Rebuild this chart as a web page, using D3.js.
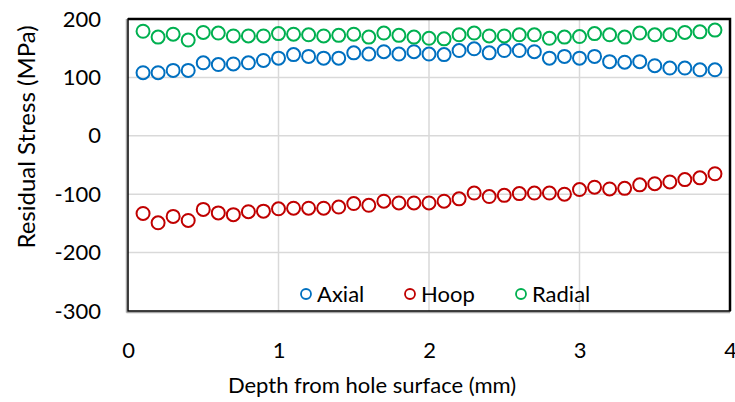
<!DOCTYPE html>
<html>
<head>
<meta charset="utf-8">
<script src="https://cdn.jsdelivr.net/npm/d3@7"></script>
<style>
  body { margin: 0; background: #fff; }
  text { font-family: Lato, "Open Sans", sans-serif; fill: #000; }
</style>
</head>
<body>
<div id="chart"></div>
<script>
// depth values (mm)
var depth = d3.range(1, 40).map(function(i) { return i / 10; });

var axial = [108, 108, 112, 112, 125, 122, 123, 125, 129, 133, 139, 136, 133, 133, 142, 140, 144, 140, 144,
             140, 139, 146, 149, 142, 146, 146, 144, 133, 136, 133, 136, 127, 126, 127, 120, 116, 116, 113, 113];
var hoop = [-133, -149, -138, -145, -126, -132, -135, -130, -129, -125, -124, -124, -124, -122, -116, -119, -112, -115, -115,
            -115, -112, -108, -98, -104, -102, -99, -98, -98, -100, -92, -88, -91, -90, -84, -82, -79, -75, -72, -65];
var radial = [179, 169, 174, 164, 177, 176, 171, 171, 171, 175, 174, 173, 171, 172, 174, 169, 176, 172, 169,
              167, 166, 173, 176, 171, 171, 173, 173, 167, 169, 170, 175, 173, 169, 176, 173, 173, 177, 178, 181];

var seriesNames = ["Axial", "Hoop", "Radial"];
var seriesColors = ["#0070C0", "#C00000", "#00B050"];
var xTicks = [0, 1, 2, 3, 4];
var yTicks = [200, 100, 0, -100, -200, -300];

var width = 735, height = 402;
var margin = { left: 128, right: 5, top: 19, bottom: 90 };

var svg = d3.select("#chart").append("svg")
    .attr("width", width)
    .attr("height", height);

var x = d3.scaleLinear().domain([0, 4]).range([margin.left, width - margin.right]);
var y = d3.scaleLinear().domain([-300, 200]).range([height - margin.bottom - 1, margin.top]);

// gridlines
svg.append("g")
    .selectAll("line.vg")
    .data(xTicks.slice(1, -1))
    .enter().append("line")
    .attr("x1", function(d) { return x(d); })
    .attr("x2", function(d) { return x(d); })
    .attr("y1", y(200))
    .attr("y2", y(-300))
    .attr("stroke", "#d9d9d9")
    .attr("stroke-width", 1.5);

svg.append("g")
    .selectAll("line.hg")
    .data(yTicks.slice(1, -1))
    .enter().append("line")
    .attr("x1", x(0))
    .attr("x2", x(4))
    .attr("y1", function(d) { return y(d); })
    .attr("y2", function(d) { return y(d); })
    .attr("stroke", "#d9d9d9")
    .attr("stroke-width", 1.5);

// frame (with shadow-ish edges)
svg.append("line")
    .attr("x1", x(0) - 1.5).attr("x2", x(0) - 1.5)
    .attr("y1", y(200)).attr("y2", y(-300) + 1.5)
    .attr("stroke", "#a6a6a6").attr("stroke-width", 1.5);
svg.append("line")
    .attr("x1", x(0) - 1.5).attr("x2", x(4))
    .attr("y1", y(-300) + 1.5).attr("y2", y(-300) + 1.5)
    .attr("stroke", "#a6a6a6").attr("stroke-width", 1.5);
svg.append("rect")
    .attr("x", x(0))
    .attr("y", y(200))
    .attr("width", x(4) - x(0))
    .attr("height", y(-300) - y(200))
    .attr("fill", "none")
    .attr("stroke", "#000")
    .attr("stroke-width", 1.5);
svg.append("path")
    .attr("d", "M" + x(0) + "," + y(200) + "H" + x(4) + "V" + y(-300))
    .attr("fill", "none")
    .attr("stroke", "#000")
    .attr("stroke-width", 2.5);

// axes
var xAxis = svg.append("g")
    .attr("transform", "translate(0," + (y(-300)) + ")")
    .call(d3.axisBottom(x).tickValues(xTicks).tickSize(0).tickPadding(31).tickFormat(function(d) { return String(d); }));
xAxis.select(".domain").remove();
xAxis.selectAll("text").style("font-size", "22px");

var yAxis = svg.append("g")
    .attr("transform", "translate(" + x(0) + ",0)")
    .call(d3.axisLeft(y).tickValues(yTicks).tickSize(0).tickPadding(27).tickFormat(function(d) { return String(d); }));
yAxis.select(".domain").remove();
yAxis.selectAll("text").style("font-size", "22px");

// axis titles
svg.append("text")
    .attr("x", 372)
    .attr("y", 393)
    .attr("text-anchor", "middle")
    .style("font-size", "22px")
    .text("Depth from hole surface (mm)");

svg.append("text")
    .attr("transform", "translate(35,137) rotate(-90)")
    .attr("text-anchor", "middle")
    .style("font-size", "24px")
    .text("Residual Stress (MPa)");

// data
var allSeries = [axial, hoop, radial];
allSeries.forEach(function(vals, i) {
    svg.append("g")
        .selectAll("circle")
        .data(vals)
        .enter().append("circle")
        .attr("cx", function(d, j) { return x(depth[j]); })
        .attr("cy", function(d) { return y(d); })
        .attr("r", 6.5)
        .attr("fill", "none")
        .attr("stroke", seriesColors[i])
        .attr("stroke-width", 2);
});

// legend
var legendX = [306, 410, 521];
var legend = svg.append("g").selectAll("g")
    .data(seriesNames)
    .enter().append("g")
    .attr("transform", function(d, i) { return "translate(" + legendX[i] + ",294)"; });
legend.append("circle")
    .attr("r", 5)
    .attr("fill", "none")
    .attr("stroke", function(d, i) { return seriesColors[i]; })
    .attr("stroke-width", 1.8);
legend.append("text")
    .attr("x", 11)
    .attr("y", 8)
    .style("font-size", "22px")
    .text(function(d) { return d; });
</script>
</body>
</html>
